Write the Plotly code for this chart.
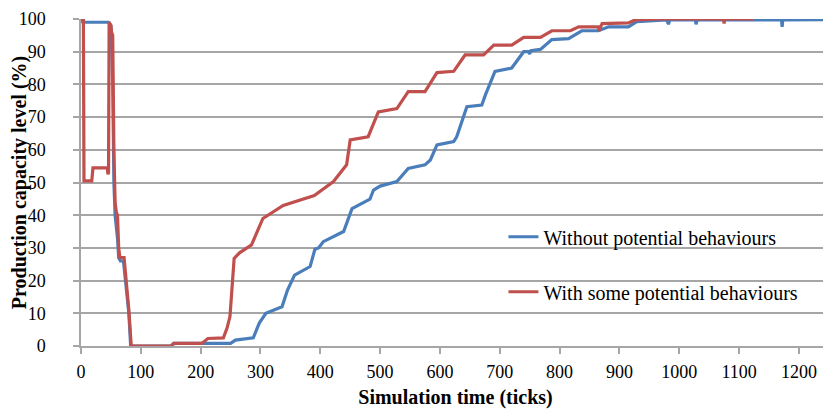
import plotly.graph_objects as go

# Series: "Without potential behaviours"
blue_t = [0, 3, 46, 50, 53, 55, 57, 59, 61, 63, 66, 71, 76, 80, 83, 150, 155, 250, 258, 288,
          298, 309, 336, 345, 357, 383, 391, 397, 405, 439, 453, 483, 489, 500, 528, 547,
          575, 584, 595, 623, 628, 645, 670, 676, 692, 720, 740, 748, 750, 752, 768, 787,
          815, 837, 865, 882, 915, 929, 979, 982, 984, 1027, 1028, 1030, 1171, 1172, 1173, 1252]
blue_v = [100, 99, 99, 98, 80, 50, 40, 37, 33, 27, 26, 26, 17, 10, 0, 0, 0.8, 0.8, 1.8, 2.5,
          7, 10, 12, 17, 21.7, 24.3, 29.6, 30, 31.9, 35, 42, 44.9, 47.7, 48.9, 50.3, 54.3,
          55.4, 56.9, 61.5, 62.5, 64, 73.2, 73.7, 76.8, 84, 85, 90, 90, 89.3, 90.3, 90.7, 93.7,
          94, 96.4, 96.4, 97.6, 97.6, 99.2, 99.7, 98.4, 99.7, 99.7, 98.4, 99.7, 99.7, 97.6, 99.7, 99.8]

# Series: "With some potential behaviours"
red_t = [0, 4, 5, 18, 20, 44, 45, 46, 47, 50, 51, 53, 55, 57, 59, 61, 63, 65, 72, 76, 80, 84,
         152, 155, 202, 212, 238, 244, 249, 256, 265, 285, 304, 338, 366, 390, 422, 444, 450,
         480, 497, 528, 547, 575, 595, 623, 642, 673, 690, 720, 740, 768, 787, 818, 832, 865,
         866, 868, 871, 915, 926, 968, 1074, 1075, 1076, 1124]
red_v = [100, 100, 50.5, 50.5, 54.5, 54.5, 52.5, 53, 99, 98, 96, 95, 60, 44, 41, 40, 30, 27, 27,
         19, 11, 0, 0, 0.8, 0.8, 2.3, 2.5, 5.4, 9, 26.8, 28.5, 30.9, 39, 43, 44.6, 46, 50.3, 55.4,
         63, 64, 71.6, 72.6, 77.8, 77.8, 83.6, 84, 89, 89, 92, 92, 94.4, 94.4, 96.4, 96.4, 97.6,
         97.6, 96.4, 97.6, 98.6, 98.8, 99.7, 100, 100, 98.6, 100, 100]

x_ticks = list(range(0, 1201, 100))
y_ticks = list(range(0, 101, 10))

FONT = "Liberation Serif, Times New Roman, serif"
GRID = "#a6a6a6"

fig = go.Figure()
fig.add_trace(go.Scatter(x=blue_t, y=blue_v, mode="lines", name="Without potential behaviours",
                         line=dict(color="#4a7ebb", width=3.2), legendgroup="a"))
fig.add_trace(go.Scatter(x=red_t, y=red_v, mode="lines", name="With some potential behaviours",
                         line=dict(color="#c0504d", width=3.2), legendgroup="b"))

# the page body has an 8px default margin, so the figure is 8px smaller than the window
fig.update_layout(
    width=823, height=401,
    margin=dict(l=73, r=1, t=11, b=63, autoexpand=False),
    paper_bgcolor="white", plot_bgcolor="white",
    font=dict(family=FONT, size=18, color="black"),
    legend=dict(x=0.564, y=0.25, xanchor="left", yanchor="middle",
                bgcolor="rgba(0,0,0,0)", font=dict(size=20, family=FONT),
                tracegroupgap=26),
    showlegend=True,
)
fig.update_xaxes(range=[0, 1252], tickvals=x_ticks, showgrid=False, zeroline=False,
                 showline=True, linecolor=GRID, linewidth=1.5, automargin=True,
                 ticks="outside", ticklen=6, tickcolor=GRID, tickwidth=1.5,
                 ticklabelstandoff=3,
                 title=dict(text="<b>Simulation time (ticks)</b>", font=dict(size=20, family=FONT),
                            standoff=11))
fig.update_yaxes(range=[0, 100], tickvals=y_ticks, showgrid=True, gridcolor=GRID, gridwidth=1.5,
                 zeroline=False, showline=True, linecolor=GRID, linewidth=1.5, automargin=False,
                 ticks="outside", ticklen=6, tickcolor=GRID, tickwidth=1.5,
                 ticklabelstandoff=24,
                 title=dict(text="<b>Production capacity level (%)</b>", font=dict(size=20, family=FONT),
                            standoff=8))

fig.write_html("out.html")
